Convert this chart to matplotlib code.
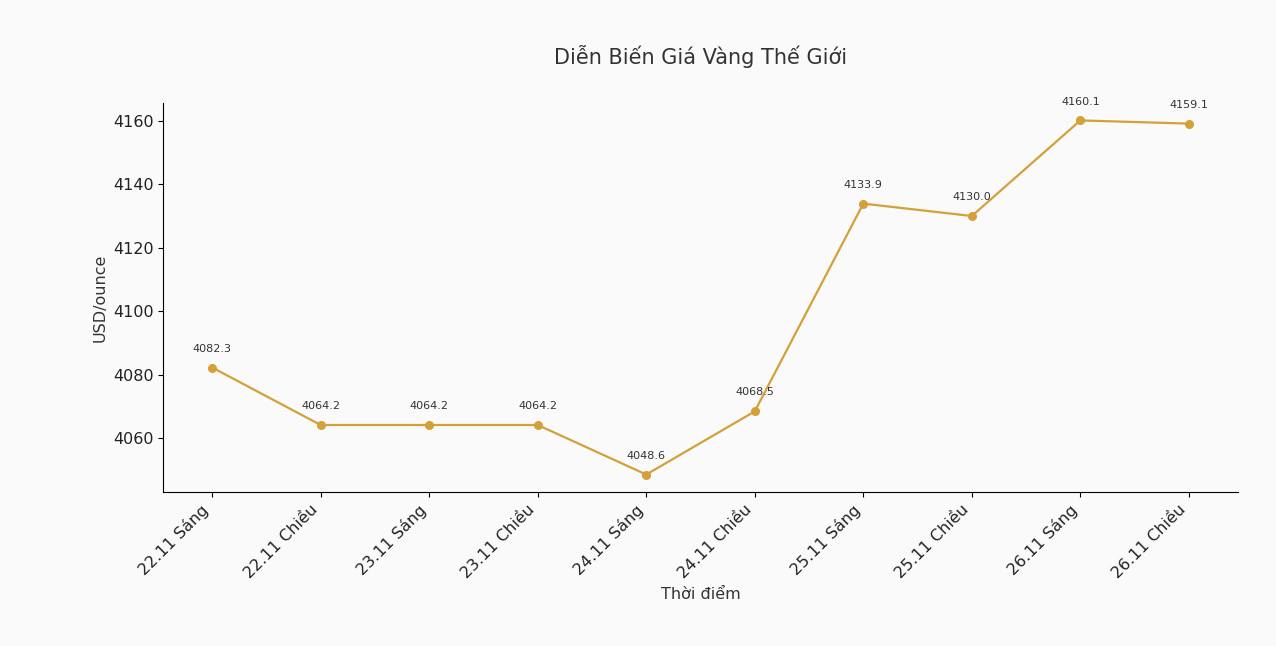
import matplotlib.pyplot as plt

labels = ["22.11 Sáng", "22.11 Chiều", "23.11 Sáng", "23.11 Chiều", "24.11 Sáng",
          "24.11 Chiều", "25.11 Sáng", "25.11 Chiều", "26.11 Sáng", "26.11 Chiều"]
prices = [4082.3, 4064.2, 4064.2, 4064.2, 4048.6, 4068.5, 4133.9, 4130.0, 4160.1, 4159.1]

fig = plt.figure(figsize=(12.76, 6.46), dpi=100, facecolor='#fafafa')
ax = fig.add_axes([0.128, 0.238, 0.842, 0.603])
ax.set_facecolor('#fafafa')

x = list(range(len(labels)))
ax.plot(x, prices, color='#d4a03a', marker='o', markersize=5.5, linewidth=1.6)
for xi, v in zip(x, prices):
    ax.annotate(f"{v:.1f}", (xi, v), xytext=(0, 10), textcoords='offset points',
                ha='center', va='bottom', fontsize=8, color='#333333')

ax.set_xticks(x)
ax.set_xticklabels(labels, rotation=45, ha='right', fontsize=11.5, color='#222222')
ax.tick_params(axis='y', labelsize=11.5, labelcolor='#222222')
ax.set_title("Diễn Biến Giá Vàng Thế Giới", fontsize=15, color='#333333', pad=28)
ax.set_xlabel("Thời điểm", fontsize=11.5, color='#333333')
ax.set_ylabel("USD/ounce", fontsize=11.5, color='#333333')
ax.spines['top'].set_visible(False)
ax.spines['right'].set_visible(False)

plt.savefig('out.png', dpi=100, facecolor='#fafafa')
